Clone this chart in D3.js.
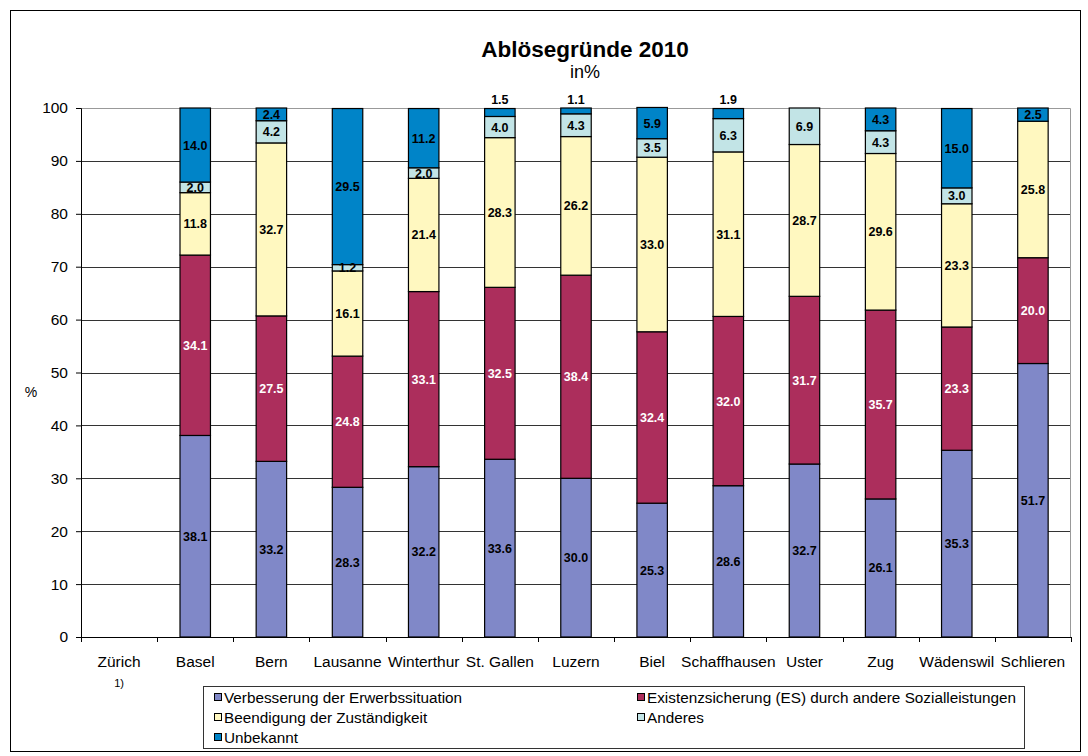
<!DOCTYPE html>
<html>
<head>
<meta charset="utf-8">
<script src="https://cdn.jsdelivr.net/npm/d3@7"></script>
<style>
  body { margin: 0; background: #fff; }
  svg { font-family: "Liberation Sans", Arial, sans-serif; }
</style>
</head>
<body>
<div id="app"></div>
<script>
// data
const cities = ["Zürich", "Basel", "Bern", "Lausanne", "Winterthur", "St. Gallen", "Luzern",
  "Biel", "Schaffhausen", "Uster", "Zug", "Wädenswil", "Schlieren"]
const seriesNames = ["Verbesserung der Erwerbssituation",
  "Existenzsicherung (ES) durch andere Sozialleistungen",
  "Beendigung der Zuständigkeit", "Anderes", "Unbekannt"]
const verbesserung = [null, 38.1, 33.2, 28.3, 32.2, 33.6, 30.0, 25.3, 28.6, 32.7, 26.1, 35.3, 51.7]
const existenz     = [null, 34.1, 27.5, 24.8, 33.1, 32.5, 38.4, 32.4, 32.0, 31.7, 35.7, 23.3, 20.0]
const beendigung   = [null, 11.8, 32.7, 16.1, 21.4, 28.3, 26.2, 33.0, 31.1, 28.7, 29.6, 23.3, 25.8]
const anderes      = [null, 2.0, 4.2, 1.2, 2.0, 4.0, 4.3, 3.5, 6.3, 6.9, 4.3, 3.0, null]
const unbekannt    = [null, 14.0, 2.4, 29.5, 11.2, 1.5, 1.1, 5.9, 1.9, null, 4.3, 15.0, 2.5]
const yTicks = [0, 10, 20, 30, 40, 50, 60, 70, 80, 90, 100]

const colors = ["#8088c8", "#ac2e5c", "#fff8c0", "#c2e4e6", "#0084c8"]
const labelColors = ["#000", "#fff", "#000", "#000", "#000"]

const allSeries = [verbesserung, existenz, beendigung, anderes, unbekannt]
const rows = cities.map((c, i) => {
  const r = { city: c }
  seriesNames.forEach((s, k) => r[s] = allSeries[k][i] || 0)
  return r
})

// dimensions
const dimensions = {
  width: 1088,
  height: 756,
  margin: { top: 108, right: 17, bottom: 119, left: 81 },
}
dimensions.boundedWidth = dimensions.width - dimensions.margin.left - dimensions.margin.right
dimensions.boundedHeight = dimensions.height - dimensions.margin.top - dimensions.margin.bottom

const svg = d3.select("#app").append("svg")
  .attr("width", dimensions.width)
  .attr("height", dimensions.height)

// outer frame
svg.append("rect")
  .attr("x", 10.5).attr("y", 10.5)
  .attr("width", 1070).attr("height", 741)
  .attr("fill", "none").attr("stroke", "#000").attr("stroke-width", 1)

const bounds = svg.append("g")
  .attr("transform", `translate(${dimensions.margin.left},${dimensions.margin.top})`)

// scales
const xScale = d3.scaleBand()
  .domain(cities)
  .range([0, dimensions.boundedWidth])
  .paddingInner(0.6)
  .paddingOuter(0.3)

const yScale = d3.scaleLinear()
  .domain([0, 100])
  .range([dimensions.boundedHeight, 0])

// grid
bounds.append("g")
  .selectAll("line")
  .data(yTicks.filter(t => t > 0 && t < 100))
  .join("line")
    .attr("x1", 0).attr("x2", dimensions.boundedWidth)
    .attr("y1", d => Math.round(yScale(d)) + 0.5)
    .attr("y2", d => Math.round(yScale(d)) + 0.5)
    .attr("stroke", "#333")

// plot area border (top/right)
bounds.append("path")
  .attr("d", `M0,0.5H${dimensions.boundedWidth - 0.5}V${dimensions.boundedHeight}`)
  .attr("fill", "none").attr("stroke", "#999")

// bars
const stack = d3.stack().keys(seriesNames)
const stacked = stack(rows)

const layers = bounds.append("g")
  .selectAll("g")
  .data(stacked)
  .join("g")
    .attr("fill", (d, i) => colors[i])

layers.selectAll("rect")
  .data(d => d.filter(p => p[1] - p[0] > 0))
  .join("rect")
    .attr("x", d => xScale(d.data.city))
    .attr("y", d => yScale(d[1]))
    .attr("width", xScale.bandwidth())
    .attr("height", d => yScale(d[0]) - yScale(d[1]))
    .attr("stroke", "#000")
    .attr("stroke-width", 1.2)

// value labels
stacked.forEach((layer, k) => {
  const pts = layer.filter(p => p[1] - p[0] > 0)
  bounds.append("g")
    .selectAll("text")
    .data(pts)
    .join("text")
      .attr("x", d => xScale(d.data.city) + xScale.bandwidth() / 2)
      .attr("y", d => {
        const v = d[1] - d[0]
        if (k === 4 && v < 2) return yScale(100) - 4
        return yScale((d[0] + d[1]) / 2) + 4.5
      })
      .attr("text-anchor", "middle")
      .attr("font-size", 12.5)
      .attr("font-weight", "bold")
      .attr("fill", d => (k === 4 && d[1] - d[0] < 2) ? "#000" : labelColors[k])
      .text(d => d3.format(".1f")(d[1] - d[0]))
})

// axes
const yAxis = bounds.append("g")
  .call(d3.axisLeft(yScale).tickValues(yTicks).tickSize(5).tickPadding(8))
yAxis.select(".domain").attr("stroke", "#000")
yAxis.selectAll("text")
  .attr("font-size", 15.5)
  .attr("font-family", "Liberation Sans, Arial, sans-serif")
  .attr("fill", "#000")

const xAxisG = bounds.append("g")
  .attr("transform", `translate(0,${dimensions.boundedHeight})`)
xAxisG.append("line")
  .attr("x1", 0).attr("x2", dimensions.boundedWidth)
  .attr("y1", 0.5).attr("y2", 0.5)
  .attr("stroke", "#000")
const step = xScale.step()
const outer = xScale(cities[0]) - step * xScale.paddingInner() / 2
xAxisG.selectAll(".tick")
  .data(d3.range(cities.length + 1))
  .join("line")
    .attr("class", "tick")
    .attr("x1", i => Math.round(outer + i * step) + 0.5)
    .attr("x2", i => Math.round(outer + i * step) + 0.5)
    .attr("y1", 0).attr("y2", 5)
    .attr("stroke", "#000")
xAxisG.selectAll(".lbl")
  .data(cities)
  .join("text")
    .attr("class", "lbl")
    .attr("x", d => xScale(d) + xScale.bandwidth() / 2)
    .attr("y", 30)
    .attr("text-anchor", "middle")
    .attr("font-size", 15.5)
    .text(d => d)
xAxisG.append("text")
  .attr("x", xScale(cities[0]) + xScale.bandwidth() / 2)
  .attr("y", 50)
  .attr("text-anchor", "middle")
  .attr("font-size", 11)
  .text("1)")

// y label
svg.append("text")
  .attr("x", 31).attr("y", 397)
  .attr("text-anchor", "middle")
  .attr("font-size", 14)
  .text("%")

// title
svg.append("text")
  .attr("x", 585).attr("y", 57)
  .attr("text-anchor", "middle")
  .attr("font-size", 22.5)
  .attr("font-weight", "bold")
  .text("Ablösegründe 2010")
svg.append("text")
  .attr("x", 585).attr("y", 78)
  .attr("text-anchor", "middle")
  .attr("font-size", 18)
  .text("in%")

// legend
const legend = svg.append("g").attr("transform", "translate(203,686)")
legend.append("rect")
  .attr("x", 0.5).attr("y", 0.5)
  .attr("width", 821).attr("height", 62)
  .attr("fill", "#fff").attr("stroke", "#333")
const legendPos = [[11, 12], [434, 12], [11, 32], [434, 32], [11, 52]]
const items = legend.selectAll(".item")
  .data(seriesNames)
  .join("g")
    .attr("class", "item")
    .attr("transform", (d, i) => `translate(${legendPos[i][0]},${legendPos[i][1]})`)
items.append("rect")
  .attr("x", 0.5).attr("y", -4.5)
  .attr("width", 7).attr("height", 7)
  .attr("fill", (d, i) => colors[i])
  .attr("stroke", "#000")
items.append("text")
  .attr("x", 10).attr("y", 5)
  .attr("font-size", 15.3)
  .text(d => d)
</script>
</body>
</html>
